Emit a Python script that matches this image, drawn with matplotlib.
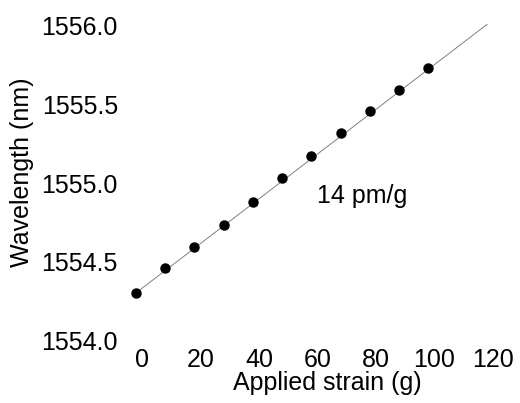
import matplotlib
matplotlib.use("Agg")
import matplotlib.pyplot as plt
import matplotlib.transforms as mtransforms
import numpy as np

# measured data
strain = [0, 10, 20, 30, 40, 50, 60, 70, 80, 90, 100]
wavelength = [1554.30, 1554.46, 1554.59, 1554.73, 1554.88, 1555.03,
              1555.17, 1555.32, 1555.46, 1555.59, 1555.73]

# linear fit, 14 pm/g
fit_x = [0, 120]
fit_y = [1554.30, 1556.01]

xticks = [0, 20, 40, 60, 80, 100, 120]
yticks = [1554.0, 1554.5, 1555.0, 1555.5, 1556.0]

plt.rcParams['font.family'] = ['Liberation Sans', 'DejaVu Sans']
fs = 18

fig = plt.figure(figsize=(5.2, 4.03), dpi=100)
ax = fig.add_axes([0.2615, 0.1563, 0.675, 0.7792])

ax.plot(fit_x, fit_y, color='#808080', lw=0.7, zorder=1, clip_on=False)
ax.plot(strain, wavelength, 'o', color='black', ms=6.5, zorder=2, clip_on=False)

ax.set_xlim(0, 120)
ax.set_ylim(1554.0, 1556.0)
ax.set_xticks(xticks)
ax.set_yticks(yticks)
ax.set_yticklabels(["%.1f" % v for v in yticks])

for s in ax.spines.values():
    s.set_visible(False)
ax.tick_params(axis='both', length=0, labelsize=fs)
ax.tick_params(axis='y', pad=13)
ax.tick_params(axis='x', pad=6)

# x tick labels sit a little right of the grid positions
offset = mtransforms.ScaledTranslation(6 / 100, 0, fig.dpi_scale_trans)
for lbl in ax.get_xticklabels():
    lbl.set_transform(lbl.get_transform() + offset)

ax.text(62, 1554.92, "14 pm/g", fontsize=fs, va='center', ha='left')

ax.set_xlabel("Applied strain (g)", fontsize=fs, va='center')
ax.set_ylabel("Wavelength (nm)", fontsize=fs, va='center')
ax.xaxis.set_label_coords(0.544, -0.137)
ax.yaxis.set_label_coords(-0.325, 0.535)

fig.savefig("out.png", dpi=100)
